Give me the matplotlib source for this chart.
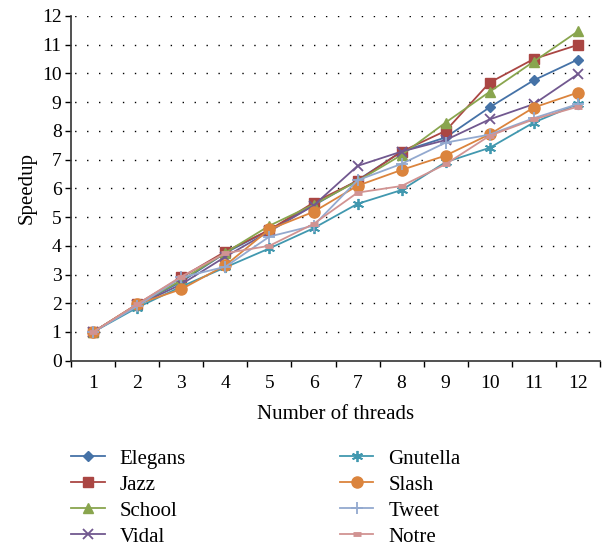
import matplotlib
matplotlib.use("Agg")
import matplotlib.pyplot as plt

# Données
threads = list(range(1, 13))

elegans  = [1.0, 1.95, 2.75, 3.75, 4.55, 5.40, 6.28, 7.28, 7.77, 8.82, 9.76, 10.48]
jazz     = [1.0, 1.97, 2.90, 3.80, 4.55, 5.50, 6.26, 7.28, 8.00, 9.68, 10.50, 10.99]
school   = [1.0, 1.95, 2.80, 3.76, 4.70, 5.43, 6.25, 7.16, 8.29, 9.36, 10.41, 11.46]
vidal    = [1.0, 1.93, 2.66, 3.62, 4.50, 5.40, 6.78, 7.28, 7.68, 8.40, 8.93, 9.97]
gnutella = [1.0, 1.85, 2.58, 3.25, 3.91, 4.61, 5.46, 5.94, 6.91, 7.41, 8.29, 8.93]
slash    = [1.0, 1.97, 2.49, 3.32, 4.57, 5.18, 6.09, 6.64, 7.14, 7.88, 8.81, 9.33]
tweet    = [1.0, 1.90, 2.90, 3.27, 4.32, 4.70, 6.28, 6.85, 7.59, 7.87, 8.44, 8.93]
notre    = [1.0, 1.97, 2.93, 3.74, 4.00, 4.76, 5.85, 6.08, 6.84, 7.83, 8.40, 8.84]

series = [
    ("Elegans",  elegans,  "#4572A7", "D",       5.5),
    ("Jazz",     jazz,     "#AA4643", "s",       7),
    ("School",   school,   "#89A54E", "^",       7),
    ("Vidal",    vidal,    "#71588F", "x",       7),
    ("Gnutella", gnutella, "#4198AF", (6, 2, 0), 8),
    ("Slash",    slash,    "#DB843D", "o",       8),
    ("Tweet",    tweet,    "#93A9CF", "+",       8),
    ("Notre",    notre,    "#D19392", "_",       6),
]

plt.rcParams["font.family"] = ["Liberation Serif", "DejaVu Serif"]

fig = plt.figure(figsize=(6.04, 5.49), dpi=100)
ax = fig.add_axes([0.118, 0.343, 0.875, 0.628])

for nom, vals, couleur, mk, ms in series:
    kw = dict(color=couleur, lw=1.3, marker=mk, markersize=ms, label=nom)
    if mk in ("x", "+", (6, 2, 0)):
        kw["markeredgewidth"] = 1.3
    elif mk == "_":
        kw["markeredgewidth"] = 3.5
    ax.plot(threads, vals, **kw)

# grille pointillée horizontale
for v in range(1, 13):
    ax.axhline(v, color="black", lw=1.0, ls=(6, (1, 7.6)), zorder=0)

ax.set_xlim(0.5, 12.5)
ax.set_ylim(0, 12)
ax.set_yticks(range(0, 13))
ax.set_xticks([i + 0.5 for i in range(0, 13)])
ax.set_xticklabels([])
ax.set_xticks(threads, minor=True)
ax.set_xticklabels([str(t) for t in threads], minor=True)
ax.tick_params(axis="x", which="major", direction="out", length=4, width=1)
ax.tick_params(axis="x", which="minor", length=0, pad=10, labelsize=14)
ax.tick_params(axis="y", direction="out", length=4, width=1, labelsize=14, pad=3)

for side in ("top", "right"):
    ax.spines[side].set_visible(False)
for side in ("left", "bottom"):
    ax.spines[side].set_linewidth(1.2)
    ax.spines[side].set_color("#333333")

ax.set_xlabel("Number of threads", fontsize=15, labelpad=10)
ax.set_ylabel("Speedup", fontsize=15, labelpad=4)

fig.legend(loc="upper left", bbox_to_anchor=(0.118, 0.182), ncol=2,
           frameon=False, fontsize=15, handlelength=1.6, handletextpad=0.72,
           columnspacing=7.4, labelspacing=0.31, borderpad=0, borderaxespad=0)

plt.savefig("out.png", dpi=100)
